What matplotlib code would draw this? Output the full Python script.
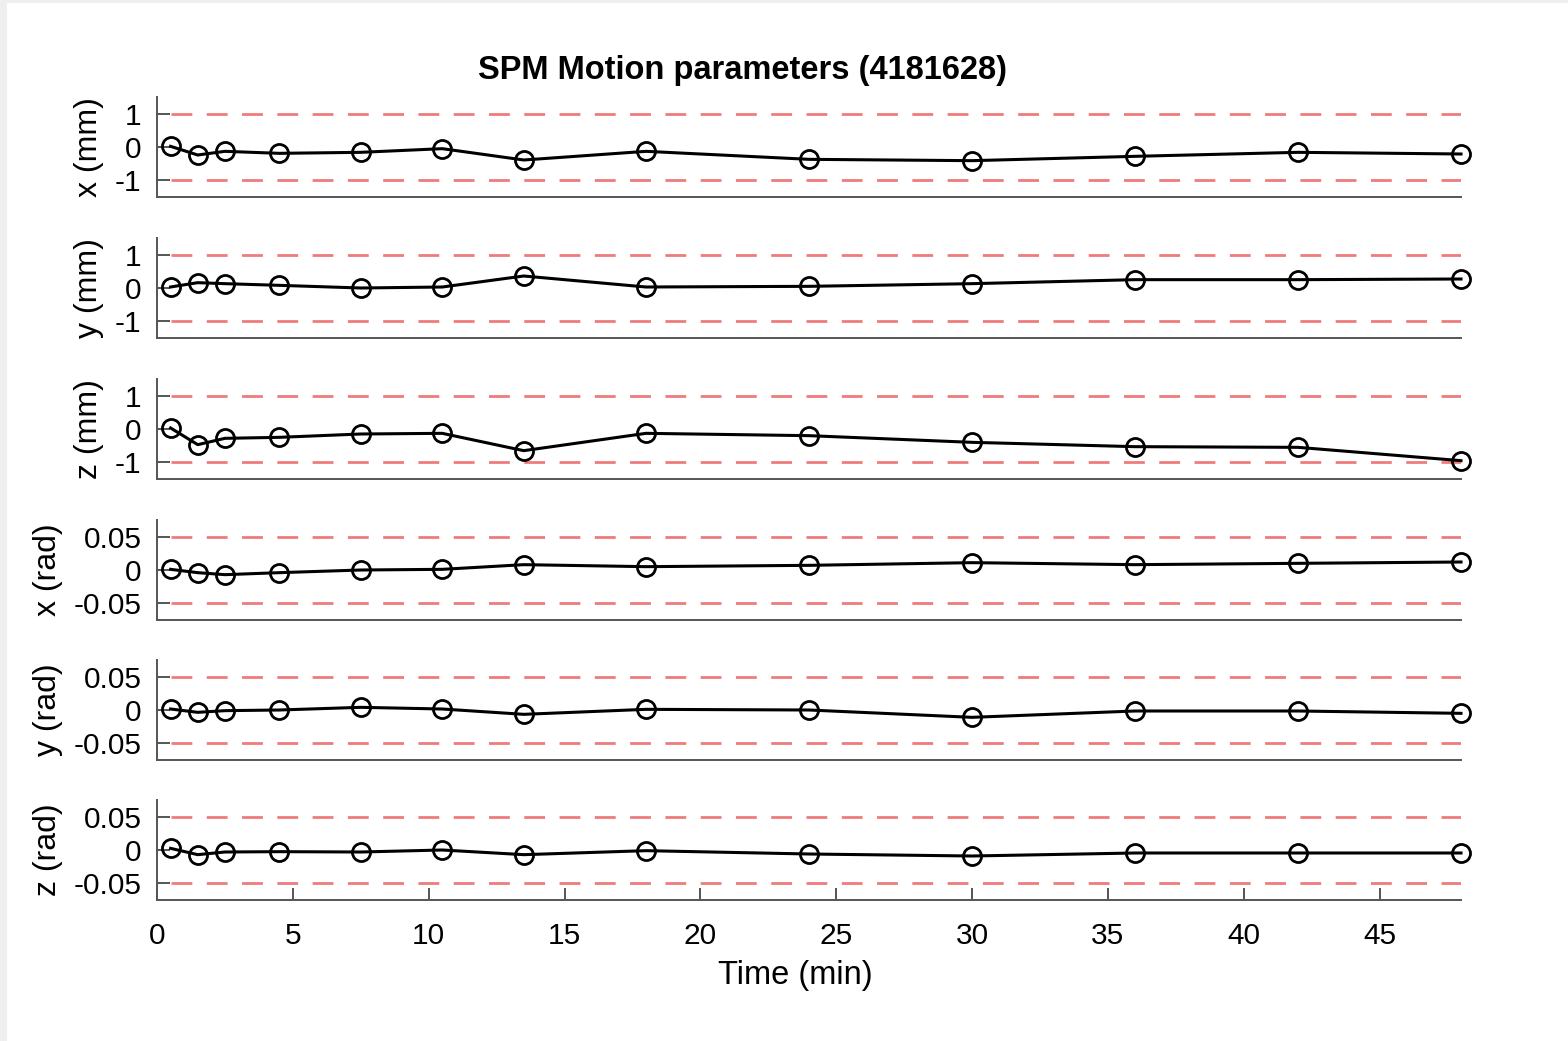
import matplotlib.pyplot as plt
from matplotlib.patches import Rectangle

plt.rcParams['font.family'] = ['Liberation Sans', 'DejaVu Sans']

# time of each scan (min)
time_min = [0.5, 1.5, 2.5, 4.5, 7.5, 10.5, 13.5, 18, 24, 30, 36, 42, 48]

# translations (mm)
x_mm = [0.02, -0.24, -0.13, -0.19, -0.16, -0.05, -0.39, -0.13, -0.37, -0.41, -0.28, -0.16, -0.21]
y_mm = [0.03, 0.16, 0.13, 0.08, 0.0, 0.03, 0.36, 0.03, 0.05, 0.13, 0.25, 0.25, 0.27]
z_mm = [0.03, -0.47, -0.28, -0.25, -0.15, -0.13, -0.65, -0.13, -0.20, -0.40, -0.53, -0.55, -0.95]

# rotations (rad)
x_rad = [0.001, -0.004, -0.007, -0.004, 0.0, 0.001, 0.008, 0.005, 0.007, 0.011, 0.008, 0.010, 0.012]
y_rad = [0.0015, -0.0035, -0.001, 0.0, 0.004, 0.0015, -0.0065, 0.001, 0.0, -0.011, -0.0015, -0.0015, -0.005]
z_rad = [0.0025, -0.007, -0.003, -0.0025, -0.003, 0.0, -0.007, -0.001, -0.006, -0.009, -0.0045, -0.0045, -0.0045]

series = [x_mm, y_mm, z_mm, x_rad, y_rad, z_rad]
ylabels = ['x (mm)', 'y (mm)', 'z (mm)', 'x (rad)', 'y (rad)', 'z (rad)']
limits = [1, 1, 1, 0.05, 0.05, 0.05]
tick_labels_mm = ['-1', '0', '1']
tick_labels_rad = ['-0.05', '0', '0.05']

W, H = 1568, 1041
fig = plt.figure(figsize=(W / 100, H / 100), dpi=100, facecolor='#efefef')
fig.add_artist(Rectangle((7 / W, 0), 1, 1 - 3 / H, transform=fig.transFigure,
                         facecolor='white', edgecolor='none', zorder=-10))

left, right = 157, 1461
bottoms = [197, 338, 479, 620, 760, 900]
ax_h = 100
red = '#ef7b7b'

axes = []
for i, (vals, lab, lim) in enumerate(zip(series, ylabels, limits)):
    ax = fig.add_axes([left / W, 1 - bottoms[i] / H, (right - left) / W, ax_h / H])
    axes.append(ax)
    ax.plot([time_min[0], time_min[-1]], [lim, lim], color=red, lw=2,
            linestyle=(0, (7.5, 5.2)))
    ax.plot([time_min[0], time_min[-1]], [-lim, -lim], color=red, lw=2,
            linestyle=(0, (7.5, 5.2)))
    ax.plot(time_min, vals, color='black', lw=2.2, marker='o', markersize=13,
            markerfacecolor='none', markeredgewidth=2, markeredgecolor='black',
            clip_on=False, zorder=3)
    ax.set_xlim(0, 48)
    ax.set_ylim(-1.5 * lim, 1.5 * lim)
    ax.set_yticks([-lim, 0, lim])
    ax.set_yticklabels(tick_labels_mm if lim == 1 else tick_labels_rad)
    ax.set_ylabel(lab, fontsize=23, labelpad=8)
    for s in ['top', 'right']:
        ax.spines[s].set_visible(False)
    for s in ['left', 'bottom']:
        ax.spines[s].set_color('#555555')
        ax.spines[s].set_linewidth(1.4)
    ax.tick_params(axis='y', direction='in', length=9, width=1.4, color='#555555',
                   labelsize=21.5, pad=11)
    if i < 5:
        ax.set_xticks([])
    else:
        ax.set_xticks(range(0, 46, 5))
        ax.tick_params(axis='x', direction='in', length=9, width=1.4, color='#555555',
                       labelsize=21.5, pad=16)
        ax.set_xlabel('Time (min)', fontsize=23.5, labelpad=10)
        ax.xaxis.set_label_coords((795 - left) / (right - left), -0.6)

fig.text(742 / W, 1 - 70 / H, 'SPM Motion parameters (4181628)', fontsize=23.5,
         fontweight='bold', ha='center', va='center')

fig.savefig('out.png', dpi=100, facecolor=fig.get_facecolor())
